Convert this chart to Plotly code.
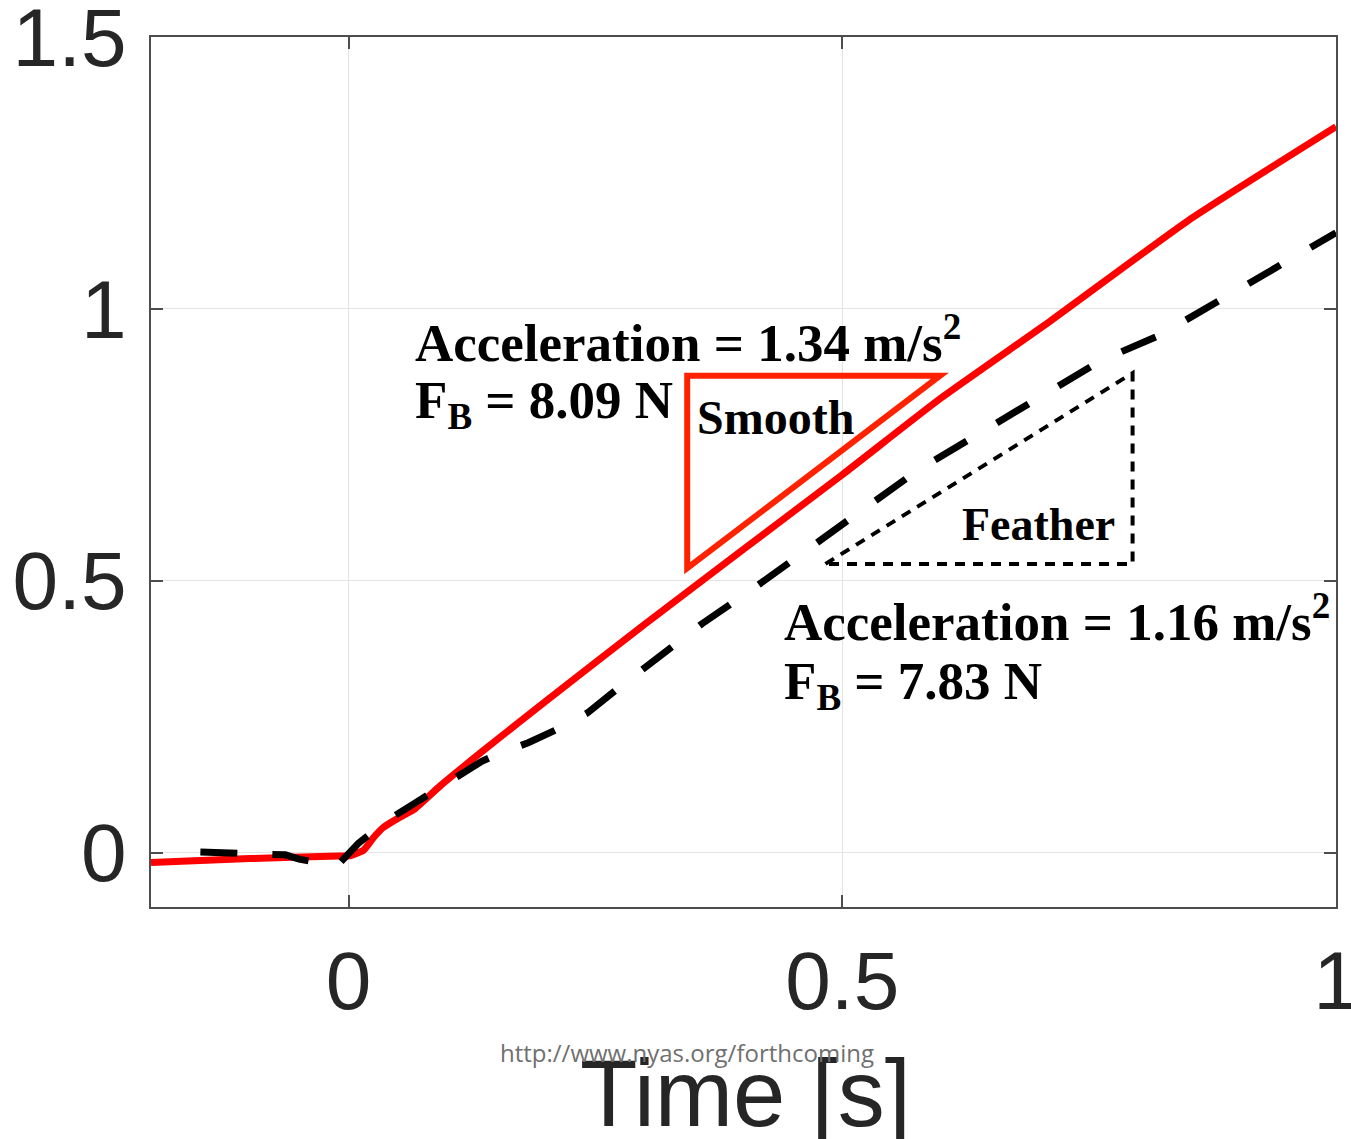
import plotly.graph_objects as go

# ---- data ----
t_smooth = [-0.2, -0.1, -0.01, 0.0, 0.015, 0.025, 0.035, 0.05, 0.066, 0.093, 0.134, 0.20,
            0.30, 0.40, 0.50, 0.60, 0.711, 0.85, 1.0]
v_smooth = [-0.018, -0.011, -0.006, -0.006, 0.004, 0.027, 0.046, 0.063, 0.079, 0.123, 0.184, 0.279,
            0.42, 0.558, 0.695, 0.836, 0.978, 1.162, 1.335]

t_feather = [-0.15, -0.12, -0.09, -0.064, -0.05, -0.012, 0.01, 0.039, 0.068, 0.091,
             0.118, 0.135, 0.152, 0.182, 0.215, 0.242, 0.27, 0.358, 0.414, 0.471,
             0.518, 0.578, 0.642, 0.702, 0.762, 0.821, 0.88, 0.94, 1.0]
v_feather = [0.001, 0.0, 0.0, -0.004, -0.012, -0.025, 0.017, 0.059, 0.092, 0.119,
             0.151, 0.168, 0.182, 0.202, 0.230, 0.257, 0.298, 0.421, 0.491, 0.564,
             0.627, 0.705, 0.775, 0.842, 0.905, 0.951, 1.014, 1.075, 1.140]

# slope triangles (annotation guides)
smooth_tri_x = [0.343, 0.343, 0.599]
smooth_tri_y = [0.877, 0.523, 0.877]
feather_tri_x = [0.483, 0.794, 0.794]
feather_tri_y = [0.531, 0.882, 0.531]

x_ticks = [0, 0.5, 1]
x_ticktext = ["0", "0.5", "1"]
y_ticks = [0, 0.5, 1, 1.5]
y_ticktext = ["0", "0.5", "1", "1.5"]

smooth_label = "Smooth"
feather_label = "Feather"
smooth_acc = "Acceleration = 1.34 m/s<sup>2</sup>"
smooth_fb = "F<sub>B</sub> = 8.09 N"
feather_acc = "Acceleration = 1.16 m/s<sup>2</sup>"
feather_fb = "F<sub>B</sub> = 7.83 N"
x_title = "Time [s]"
watermark = "http://www.nyas.org/forthcoming"

# ---- figure ----
fig = go.Figure()
fig.add_trace(go.Scatter(x=t_smooth, y=v_smooth, mode="lines",
                         line=dict(color="#FF0000", width=7, shape="spline", smoothing=0.5),
                         showlegend=False, hoverinfo="skip"))
fig.add_trace(go.Scatter(x=t_feather, y=v_feather, mode="lines",
                         line=dict(color="#000000", width=7, dash="37px,35px"),
                         showlegend=False, hoverinfo="skip"))


def tri_path(xs, ys):
    return "M {},{} L {},{} L {},{} Z".format(xs[0], ys[0], xs[1], ys[1], xs[2], ys[2])


fig.add_shape(type="path", xref="x", yref="y", path=tri_path(smooth_tri_x, smooth_tri_y),
              line=dict(color="#FF2200", width=6))
fig.add_shape(type="path", xref="x", yref="y", path=tri_path(feather_tri_x, feather_tri_y),
              line=dict(color="#000000", width=4, dash="10px,8px"))

serif = "Liberation Serif, Times New Roman, serif"
ann = []
ann.append(dict(x=0.0658, y=0.945, text="<b>" + smooth_acc + "</b>", font=dict(size=53)))
ann.append(dict(x=0.0658, y=0.825, text="<b>" + smooth_fb + "</b>", font=dict(size=53)))
ann.append(dict(x=0.351, y=0.80, text="<b>" + smooth_label + "</b>", font=dict(size=48)))
ann.append(dict(x=0.619, y=0.603, text="<b>" + feather_label + "</b>", font=dict(size=46)))
ann.append(dict(x=0.439, y=0.432, text="<b>" + feather_acc + "</b>", font=dict(size=53)))
ann.append(dict(x=0.439, y=0.308, text="<b>" + feather_fb + "</b>", font=dict(size=53)))
for a in ann:
    a["font"].update(family=serif, color="#000000")
    fig.add_annotation(xref="x", yref="y", xanchor="left", yanchor="middle",
                       showarrow=False, **a)

fig.add_annotation(xref="paper", yref="paper", x=0.502, y=-0.2138, xanchor="center",
                   yanchor="middle", showarrow=False, text=x_title,
                   font=dict(family="Liberation Sans, Arial, sans-serif", size=94,
                             color="#262626"))
fig.add_annotation(xref="paper", yref="paper", x=0.4527, y=-0.1667, xanchor="center",
                   yanchor="middle", showarrow=False, text=watermark,
                   font=dict(family="Open Sans, sans-serif", size=24, color="#707070"))

axis_common = dict(showline=True, linecolor="#4d4d4d", linewidth=2, mirror="ticks",
                   ticks="inside", ticklen=12, tickwidth=2, tickcolor="#4d4d4d",
                   showgrid=True, gridcolor="#e3e3e3", gridwidth=1, zeroline=False,
                   automargin=False, ticklabeloverflow="allow",
                   tickfont=dict(family="Liberation Sans, Arial, sans-serif", size=82,
                                 color="#262626"))

fig.update_xaxes(range=[-0.2, 1.0], tickmode="array", tickvals=x_ticks,
                 ticktext=x_ticktext, ticklabelstandoff=2, **axis_common)
fig.update_yaxes(range=[-0.1, 1.5], tickmode="array", tickvals=y_ticks,
                 ticktext=y_ticktext, ticklabelstandoff=6, **axis_common)

fig.update_layout(width=1351, height=1139, margin=dict(l=151, r=15, t=37, b=232, pad=0),
                  plot_bgcolor="#ffffff", paper_bgcolor="#ffffff", showlegend=False)

fig.write_html("out.html")
